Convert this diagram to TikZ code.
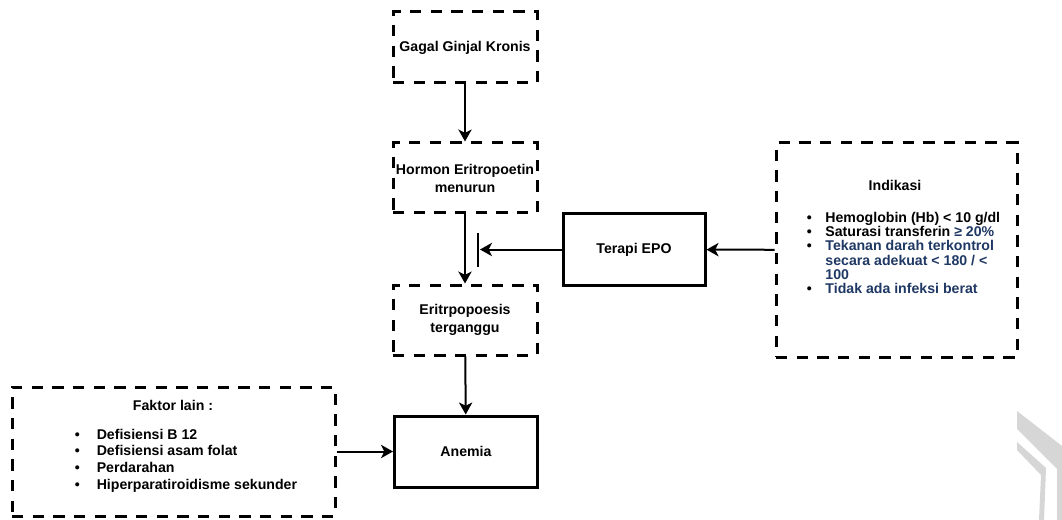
\documentclass[tikz,border=0pt]{standalone}
\usepackage{fontspec}
\setmainfont{Liberation Sans}
\usetikzlibrary{arrows.meta}
\definecolor{navy}{RGB}{31,56,100}
\definecolor{wmgray}{RGB}{214,214,214}
\newcommand\diagfont{\fontsize{10.6}{13.5}\selectfont\bfseries}
\begin{document}
\begin{tikzpicture}[x=0.75pt,y=-0.75pt,
  dbox/.style={draw,line width=2.25pt,dash pattern=on 8.5pt off 7pt,fill=white,inner sep=0pt,align=center,font=\diagfont},
  sbox/.style={draw,line width=2.25pt,fill=white,inner sep=0pt,align=center,font=\diagfont},
  txt/.style={inner sep=0pt,font=\diagfont},
  conn/.style={line width=1.5pt,-{Stealth[length=9pt,width=10pt,inset=2.5pt]}},
  bar/.style={line width=1.5pt}
  ]
\useasboundingbox[fill=white] (0,0) rectangle (1062,520);

% watermark
\fill[wmgray] (1017,411) -- (1062,446) -- (1062,520) -- (1057,520) -- (1057,469) -- (1017,429) -- cycle;
\fill[wmgray] (1017,442) -- (1046,468) -- (1044,520) -- (1039,520) -- (1041,475) -- (1017,450) -- cycle;

% boxes
\node[dbox,minimum width=108pt,minimum height=53.25pt] (ggk) at (465,47.5) {Gagal Ginjal Kronis};
\node[dbox,minimum width=108pt,minimum height=52.5pt] (hor) at (465,178) {Hormon Eritropoetin\\menurun};
\node[dbox,minimum width=108pt,minimum height=52.5pt] (eri) at (465,320) {Eritrpopoesis\\terganggu};
\node[sbox,minimum width=107.25pt,minimum height=53.25pt] (ane) at (466,451.5) {Anemia};
\node[sbox,minimum width=106.5pt,minimum height=53.25pt] (epo) at (634,249.5) {Terapi EPO};
\node[dbox,minimum width=180.75pt,minimum height=160.5pt] (ind) at (896.5,250) {};
\node[dbox,minimum width=242.25pt,minimum height=96.75pt] (fak) at (173.5,451.5) {};

% texts in list boxes
\node[txt] (indt) at (895,185) {Indikasi};
\node[txt,anchor=west,align=left,font=\fontsize{10.6}{10.6}\selectfont\bfseries] (indl) at (806.5,253) {%
\makebox[14pt][l]{•}Hemoglobin (Hb) < 10 g/dl\\
\makebox[14pt][l]{•}Saturasi transferin {\color{navy}≥ 20\%}\\
\makebox[14pt][l]{•}{\color{navy}Tekanan darah terkontrol}\\
\hspace*{14pt}{\color{navy}secara adekuat < 180 / <}\\
\hspace*{14pt}{\color{navy}100}\\
\makebox[14pt][l]{•}{\color{navy}Tidak ada infeksi berat}};
\node[txt] (fakt) at (173,405) {Faktor lain :};
\node[txt,anchor=west,align=left,font=\fontsize{10.6}{12.5}\selectfont\bfseries] (fakl) at (74.5,460.5) {%
\makebox[16.5pt][l]{•}Defisiensi B 12\\
\makebox[16.5pt][l]{•}Defisiensi asam folat\\
\makebox[16.5pt][l]{•}Perdarahan\\
\makebox[16.5pt][l]{•}Hiperparatiroidisme sekunder};

% connectors
\draw[conn] (ggk) -- (hor);
\draw[conn] (hor) -- (eri);
\draw[conn] (eri) -- (ane);
\draw[conn] (ind) -- (epo);
\draw[conn] (fak.east |- ane.west) -- (ane.west);
\coordinate (inh) at (480,249.5);
\coordinate (bt) at (478,233);
\coordinate (bb) at (478,267);
\draw[conn] (epo.west) -- (inh);
\draw[bar] (bt) -- (bb);
\end{tikzpicture}
\end{document}
